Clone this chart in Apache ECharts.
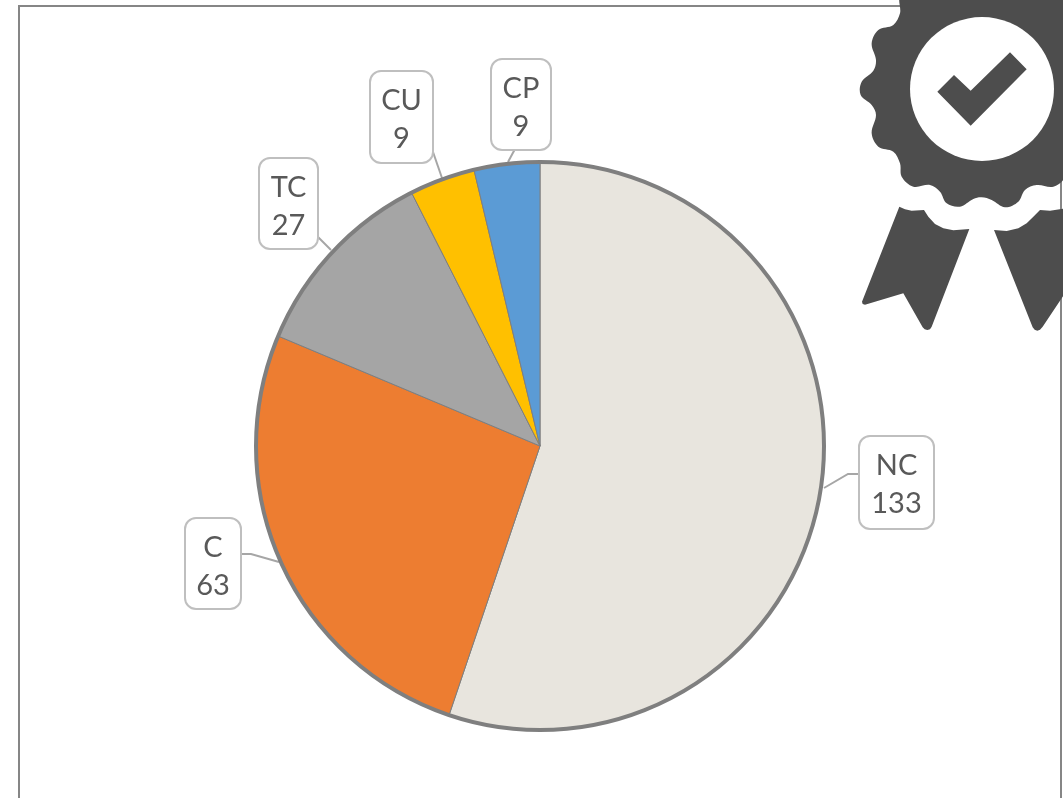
<!DOCTYPE html>
<html><head><meta charset="utf-8">
<style>html,body{margin:0;padding:0;background:#fff}#c{width:1063px;height:798px}</style>
<script src="https://cdn.jsdelivr.net/npm/echarts@6/dist/echarts.min.js"></script>
</head><body><div id="c"></div>
<script>
const categories = ['NC','C','TC','CU','CP'];
const values = [133,63,27,9,9];
const colors = ['#E8E5DE','#ED7D31','#A5A5A5','#FFC000','#5B9BD5'];

const CX=540, CY=446, R=284;
const boxes = {
  NC:{x:860,y:437,w:73,h:91,line:[[824,488],[848,474],[860,474]]},
  C:{x:186,y:519,w:54,h:89,line:[[279,562],[251,554],[241,554]]},
  TC:{x:260,y:159,w:57,h:89,line:[[331,250],[318,237],[318,237]]},
  CU:{x:371,y:72,w:61,h:90,line:[[442,178],[433,152],[433,152]]},
  CP:{x:492,y:60,w:58,h:89,line:[[508,162],[515,149],[515,149]]}
};
const INK='#4D4D4D';
const scallop=[[155,-10],[150,40],[130,75],[85,90],[65,130],[78,180],[70,212],[35,245],[32,285],[65,315],[78,345],[65,400],[85,440],[130,455],[150,490],[155,530],[190,560],[240,555],[270,575],[290,610],[330,620],[370,597],[395,592],[425,600],[465,622],[505,605],[525,570],[560,555],[610,560],[645,530],[700,300],[700,-10]];
const ribbonL=[[148,620],[165,628],[185,632],[222,630],[235,650],[255,672],[280,685],[310,691],[358,687],[245,980],[240,988],[232,990],[224,988],[218,982],[160,880],[45,914],[38,912],[36,905]];
const ribbonR=[[432,690],[470,693],[505,685],[530,670],[550,650],[570,630],[600,632],[645,625],[645,880],[578,980],[570,989],[562,992],[554,989],[548,982]];
const check=[[262,275],[312,225],[362,272],[480,157],[530,208],[362,377]];
const badge={x:850,y:0,scaleX:1/3,scaleY:1/3};

const chart=echarts.init(document.getElementById('c'),null,{renderer:'canvas'});
chart.setOption({
  animation:false,
  backgroundColor:'#fff',
  graphic:[
    {type:'rect',z:0,shape:{x:19,y:6,width:1042,height:900},style:{fill:'none',stroke:'#868686',lineWidth:2}},
    {type:'circle',z:10,silent:true,shape:{cx:CX,cy:CY,r:R},style:{fill:'none',stroke:'#7F7F7F',lineWidth:4}},
    {type:'polygon',z:20,...badge,shape:{points:ribbonL},style:{fill:INK}},
    {type:'polygon',z:20,...badge,shape:{points:ribbonR},style:{fill:INK}},
    {type:'polygon',z:20,...badge,shape:{points:scallop,smooth:0.35},style:{fill:INK}},
    {type:'circle',z:21,shape:{cx:982,cy:89,r:72},style:{fill:'#fff'}},
    {type:'polygon',z:22,...badge,shape:{points:check},style:{fill:INK}}
  ],
  series:[{
    type:'pie',
    center:[CX,CY],
    radius:[0,R],
    startAngle:90,
    clockwise:true,
    avoidLabelOverlap:false,
    itemStyle:{borderColor:'#7F7F7F',borderWidth:1},
    emphasis:{disabled:true},
    label:{
      show:true,
      formatter:'{b}\n{c}',
      fontFamily:'Lato',
      fontSize:29,
      lineHeight:38,
      color:'#595959',
      backgroundColor:'#fff',
      borderColor:'#BFBFBF',
      borderWidth:2,
      borderRadius:10,
      align:'center',
      verticalAlign:'top'
    },
    labelLine:{show:true,lineStyle:{color:'#A6A6A6',width:2}},
    labelLayout:function(p){
      const b=boxes[categories[p.dataIndex]];
      return {x:b.x+b.w/2,y:b.y,align:'center',verticalAlign:'top',labelLinePoints:b.line};
    },
    data:categories.map((n,i)=>({
      name:n,value:values[i],
      itemStyle:{color:colors[i]},
      label:{width:boxes[n].w,height:boxes[n].h-16,padding:[10,0,6,0]}
    }))
  }]
});
</script></body></html>
